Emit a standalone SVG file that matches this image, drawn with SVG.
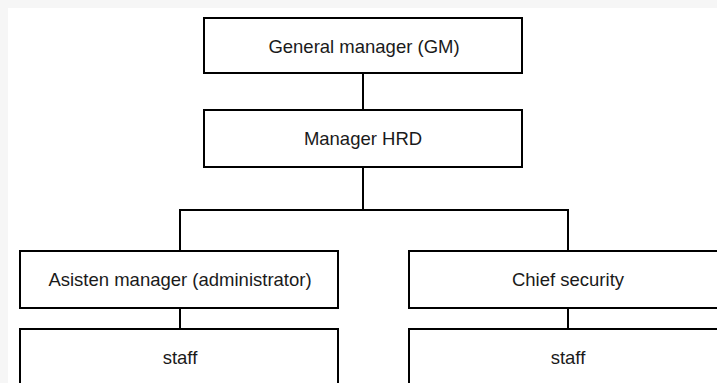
<svg xmlns="http://www.w3.org/2000/svg" width="717" height="383" viewBox="0 0 717 383">
  <style>
    .box { fill: #ffffff; stroke: #000000; stroke-width: 2; }
    .link { fill: none; stroke: #000000; stroke-width: 2; }
    .label { font-family: "Liberation Sans", Arial, sans-serif; font-size: 18.5px; fill: #1a1a1a; text-anchor: middle; }
  </style>
  <!-- page backdrop -->
  <rect x="0" y="0" width="717" height="383" fill="#f6f6f6"/>
  <rect x="8" y="8" width="709" height="375" fill="#ffffff"/>

  <g id="connectors">
    <path class="link" d="M363 73 V110"/>
    <path class="link" d="M363 167 V210"/>
    <path class="link" d="M180 251 V210 H568 V251"/>
    <path class="link" d="M180 308 V329"/>
    <path class="link" d="M568 308 V329"/>
  </g>

  <g id="gm">
    <rect class="box" x="204" y="18" width="318" height="55"/>
    <text class="label" x="364" y="53">General manager (GM)</text>
  </g>

  <g id="manager-hrd">
    <rect class="box" x="204" y="110" width="318" height="57"/>
    <text class="label" x="363" y="145">Manager HRD</text>
  </g>

  <g id="asisten-manager">
    <rect class="box" x="20" y="251" width="318" height="57"/>
    <text class="label" x="180" y="286">Asisten manager (administrator)</text>
  </g>

  <g id="chief-security">
    <rect class="box" x="409" y="251" width="330" height="57"/>
    <text class="label" x="568" y="286">Chief security</text>
  </g>

  <g id="staff-admin">
    <rect class="box" x="20" y="329" width="318" height="70"/>
    <text class="label" x="180" y="364">staff</text>
  </g>

  <g id="staff-security">
    <rect class="box" x="409" y="329" width="330" height="70"/>
    <text class="label" x="568" y="364">staff</text>
  </g>
</svg>
